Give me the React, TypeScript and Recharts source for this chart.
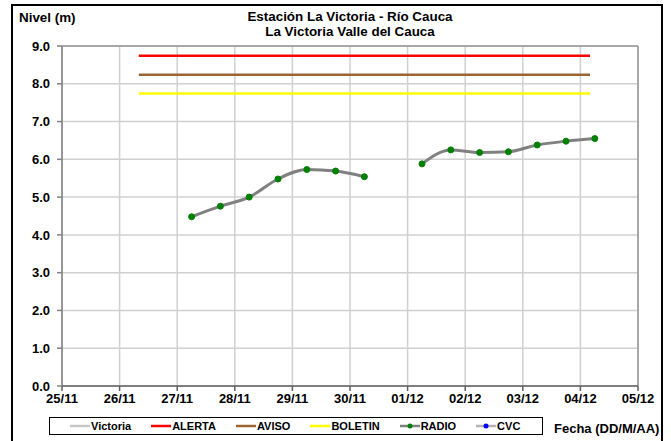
import React from 'react';
import { ComposedChart, Line, XAxis, YAxis, CartesianGrid, ReferenceLine } from 'recharts';

// Lecturas de nivel (m) cada 12 horas
const fechas = [
  '27/11 06:00', '27/11 18:00', '28/11 06:00', '28/11 18:00', '29/11 06:00',
  '29/11 18:00', '30/11 06:00', '30/11 18:00', '01/12 06:00', '01/12 18:00',
  '02/12 06:00', '02/12 18:00', '03/12 06:00', '03/12 18:00', '04/12 06:00',
];
const nivelRadio: (number | null)[] = [
  4.48, 4.76, 5.0, 5.48, 5.73, 5.69, 5.54, null, 5.88, 6.25, 6.18, 6.2, 6.38, 6.48, 6.55,
];

// Umbrales
const umbralInicio = '26/11 08:00';
const umbralFin = '04/12 04:00';
const nivelAlerta = 8.74;
const nivelAviso = 8.24;
const nivelBoletin = 7.74;

const etiquetasFecha = ['25/11', '26/11', '27/11', '28/11', '29/11', '30/11', '01/12', '02/12', '03/12', '04/12', '05/12'];
const ticksNivel = [0, 1, 2, 3, 4, 5, 6, 7, 8, 9];

const FONT = '"Liberation Sans", Arial, sans-serif';

// dias desde 25/11 00:00
const toDias = (f: string) => {
  const [fecha, hora] = f.split(' ');
  const [d, m] = fecha.split('/').map(Number);
  const [h, min] = hora.split(':').map(Number);
  const dia = m === 11 ? d - 25 : d + 5;
  return dia + (h + min / 60) / 24;
};

const data = fechas.map((f, i) => ({ x: toDias(f), nivel: nivelRadio[i] }));
const umbral = (v: number) => [
  { x: toDias(umbralInicio), y: v },
  { x: toDias(umbralFin), y: v },
];

const leyenda = [
  { name: 'Victoria', color: '#c8c8c8', dot: null },
  { name: 'ALERTA', color: '#ff0000', dot: null },
  { name: 'AVISO', color: '#9c6433', dot: null },
  { name: 'BOLETIN', color: '#ffff00', dot: null },
  { name: 'RADIO', color: '#808080', dot: '#008000' },
  { name: 'CVC', color: '#b4b4b4', dot: '#0000ff' },
];

const tickStyle = { fill: '#000', fontSize: 13, fontWeight: 700, fontFamily: FONT };

export default function App() {
  return (
    <div style={{ position: 'absolute', left: 0, top: 0, width: 671, height: 441, overflow: 'hidden', background: '#fff', fontFamily: FONT }}>
      <div style={{ position: 'absolute', left: 11, top: 4, width: 648, height: 460, border: '2px solid #000' }} />
      <div style={{ position: 'absolute', left: 19, top: 10, fontSize: 13.4, fontWeight: 700 }}>Nivel (m)</div>
      <div style={{ position: 'absolute', left: 150, width: 400, top: 9, fontSize: 13.4, fontWeight: 700, textAlign: 'center', lineHeight: '15px' }}>
        Estación La Victoria - Río Cauca
        <br />
        La Victoria Valle del Cauca
      </div>

      <div style={{ position: 'absolute', left: 0, top: 0 }}>
        <ComposedChart width={671} height={441} data={data} margin={{ top: 46, right: 33, left: 10, bottom: 31 }}>
          <CartesianGrid stroke="#d0d0d0" strokeWidth={1.5} />
          <XAxis
            dataKey="x"
            type="number"
            domain={[0, 10]}
            ticks={etiquetasFecha.map((_, i) => i)}
            tickFormatter={(v: number) => etiquetasFecha[v]}
            tick={tickStyle}
            stroke="#606060"
            strokeWidth={1.5}
            tickSize={5}
            tickMargin={3}
            height={24}
            allowDataOverflow
          />
          <YAxis
            type="number"
            domain={[0, 9]}
            ticks={ticksNivel}
            tickFormatter={(v: number) => v.toFixed(1)}
            tick={tickStyle}
            stroke="#808080"
            strokeWidth={1.5}
            tickSize={5}
            tickMargin={7}
            width={52}
          />
          <ReferenceLine y={9} stroke="#a8a8a8" strokeWidth={2} />
          <ReferenceLine x={10} stroke="#a8a8a8" strokeWidth={2} />
          <Line data={umbral(nivelAlerta)} dataKey="y" name="ALERTA" stroke="#ff0000" strokeWidth={2.5} dot={false} isAnimationActive={false} />
          <Line data={umbral(nivelAviso)} dataKey="y" name="AVISO" stroke="#9c6433" strokeWidth={2.5} dot={false} isAnimationActive={false} />
          <Line data={umbral(nivelBoletin)} dataKey="y" name="BOLETIN" stroke="#ffff00" strokeWidth={2.5} dot={false} isAnimationActive={false} />
          <Line
            dataKey="nivel"
            name="RADIO"
            type="monotone"
            stroke="#808080"
            strokeWidth={3}
            dot={{ r: 3, fill: '#008000', stroke: '#008000', strokeWidth: 1 }}
            isAnimationActive={false}
          />
        </ComposedChart>
      </div>

      <div
        style={{
          position: 'absolute', left: 49, top: 417, width: 494, height: 18, border: '1px solid #000', boxSizing: 'border-box',
          display: 'flex', alignItems: 'center', paddingLeft: 20, fontSize: 11, fontWeight: 700,
        }}
      >
        {leyenda.map((it) => (
          <div key={it.name} style={{ display: 'flex', alignItems: 'center', marginRight: 20 }}>
            <svg width={20} height={8} style={{ marginRight: 1 }}>
              <line x1={0} y1={4} x2={20} y2={4} stroke={it.color} strokeWidth={2.5} />
              {it.dot && <circle cx={10} cy={4} r={2.5} fill={it.dot} />}
            </svg>
            <span>{it.name}</span>
          </div>
        ))}
      </div>
      <div style={{ position: 'absolute', left: 554, top: 421, fontSize: 13, fontWeight: 700 }}>Fecha (DD/M/AA)</div>
    </div>
  );
}
